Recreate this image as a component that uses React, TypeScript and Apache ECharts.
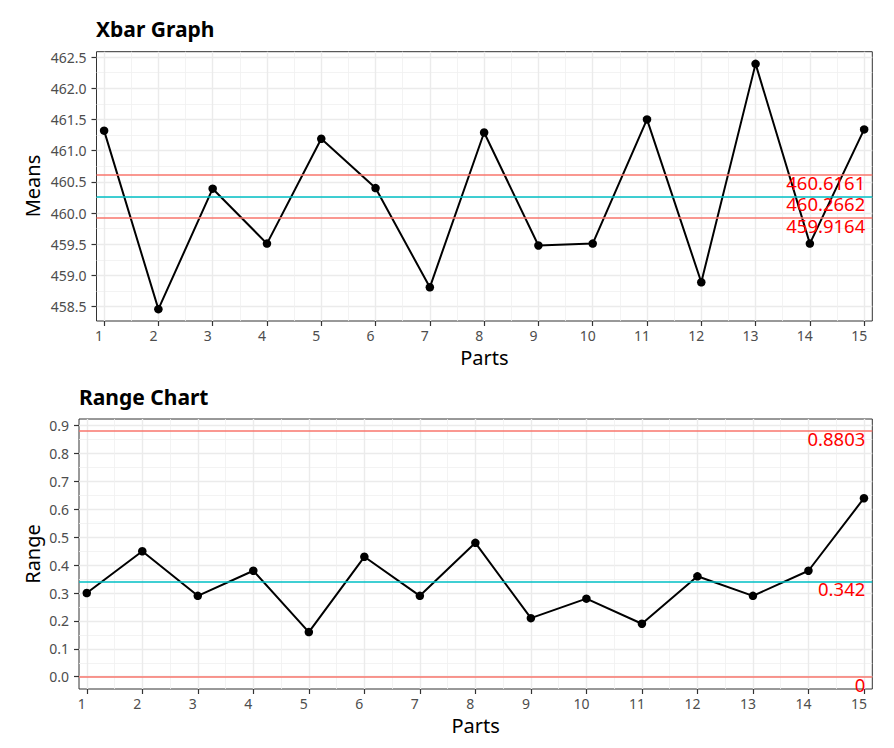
import React, { useEffect, useRef } from "react";
import * as echarts from "echarts";

const parts = [1, 2, 3, 4, 5, 6, 7, 8, 9, 10, 11, 12, 13, 14, 15];
const means = [461.32, 458.46, 460.39, 459.51, 461.19, 460.4, 458.81, 461.29, 459.48, 459.51, 461.5, 458.89, 462.39, 459.51, 461.34];
const ranges = [0.3, 0.45, 0.29, 0.38, 0.16, 0.43, 0.29, 0.48, 0.21, 0.28, 0.19, 0.36, 0.29, 0.38, 0.64];
const xbarLimitValues = [460.6161, 460.2662, 459.9164];
const rangeLimitValues = [0.8803, 0.342, 0];
const meansTicks = [458.5, 459, 459.5, 460, 460.5, 461, 461.5, 462, 462.5];
const rangeTicks = [0, 0.1, 0.2, 0.3, 0.4, 0.5, 0.6, 0.7, 0.8, 0.9];

const FONT = "'Noto Sans', 'DejaVu Sans', sans-serif";
const limitColors = ["#F8766D", "#00BFC4", "#F8766D"];

function xAxis(gridIndex: number) {
  return {
    type: "value",
    gridIndex,
    min: 0.86,
    max: 15.15,
    splitNumber: 14,
    minInterval: 1,
    maxInterval: 1,
    axisLine: { show: false, onZero: false },
    axisTick: { show: true, length: 5, customValues: parts, lineStyle: { color: "#333333", width: 1.2 } },
    axisLabel: {
      customValues: parts,
      color: "#4D4D4D",
      fontSize: 14,
      fontFamily: FONT,
      margin: 7,
      padding: [0, 10, 0, 0],
      formatter: (v: number) => String(v),
    },
    splitLine: { show: true, lineStyle: { color: "#EBEBEB", width: 1.4 } },
    minorTick: { show: false, splitNumber: 2 },
    minorSplitLine: { show: true, lineStyle: { color: "#F0F0F0", width: 0.8 } },
  };
}

function yAxis(gridIndex: number, min: number, max: number, interval: number, ticks: number[]) {
  return {
    type: "value",
    gridIndex,
    min,
    max,
    minInterval: interval,
    maxInterval: interval,
    splitNumber: ticks.length - 1,
    axisLine: { show: false, onZero: false },
    axisTick: { show: true, length: 5, customValues: ticks, lineStyle: { color: "#333333", width: 1.2 } },
    axisLabel: {
      customValues: ticks,
      color: "#4D4D4D",
      fontSize: 14,
      fontFamily: FONT,
      margin: 10,
      formatter: (v: number) => v.toFixed(1),
    },
    splitLine: { show: true, lineStyle: { color: "#EBEBEB", width: 1.4 } },
    minorTick: { show: false, splitNumber: 2 },
    minorSplitLine: { show: true, lineStyle: { color: "#F0F0F0", width: 0.8 } },
  };
}

function limitLines(values: number[]) {
  return {
    silent: true,
    symbol: ["none", "none"],
    precision: 4,
    data: values.map((v, i) => ({
      yAxis: v,
      lineStyle: { color: limitColors[i], width: 1.5, type: "solid" },
      label: {
        show: true,
        position: "insideEndBottom",
        formatter: () => String(v),
        color: "#FF0000",
        fontSize: 18.5,
        fontFamily: FONT,
        distance: [7, -2],
      },
    })),
  };
}

function lineSeries(xi: number, values: number[], limits: number[]) {
  return {
    type: "line",
    xAxisIndex: xi,
    yAxisIndex: xi,
    data: parts.map((p, i) => [p, values[i]]),
    symbol: "circle",
    symbolSize: 8.5,
    itemStyle: { color: "#000000" },
    lineStyle: { color: "#000000", width: 2 },
    clip: false,
    markLine: limitLines(limits),
  };
}

const option = {
  animation: false,
  backgroundColor: "#FFFFFF",
  grid: [
    {
      left: 96.5, top: 51.7, width: 775.8, height: 269.3,
      show: true, borderColor: "#333333", borderWidth: 1, backgroundColor: "#FFFFFF",
      containLabel: false, outerBoundsMode: "none",
    },
    {
      left: 79, top: 419, width: 793.3, height: 270,
      show: true, borderColor: "#333333", borderWidth: 1, backgroundColor: "#FFFFFF",
      containLabel: false, outerBoundsMode: "none",
    },
  ],
  xAxis: [xAxis(0), xAxis(1)],
  yAxis: [
    yAxis(0, 458.27, 462.585, 0.5, meansTicks),
    yAxis(1, -0.044, 0.924, 0.1, rangeTicks),
  ],
  series: [lineSeries(0, means, xbarLimitValues), lineSeries(1, ranges, rangeLimitValues)],
  graphic: [
    { type: "text", x: 96, y: 28.5, style: { text: "Xbar Graph", fontSize: 21, fontWeight: "bold", fontFamily: FONT, fill: "#000", align: "left", verticalAlign: "middle" } },
    { type: "text", x: 79, y: 397, style: { text: "Range Chart", fontSize: 21, fontWeight: "bold", fontFamily: FONT, fill: "#000", align: "left", verticalAlign: "middle" } },
    { type: "text", x: 32, y: 186, rotation: Math.PI / 2, style: { text: "Means", fontSize: 20, fontFamily: FONT, fill: "#000", align: "center", verticalAlign: "middle" } },
    { type: "text", x: 32, y: 554, rotation: Math.PI / 2, style: { text: "Range", fontSize: 20, fontFamily: FONT, fill: "#000", align: "center", verticalAlign: "middle" } },
    { type: "text", x: 484.4, y: 357, style: { text: "Parts", fontSize: 20, fontFamily: FONT, fill: "#000", align: "center", verticalAlign: "middle" } },
    { type: "text", x: 475.6, y: 725, style: { text: "Parts", fontSize: 20, fontFamily: FONT, fill: "#000", align: "center", verticalAlign: "middle" } },
  ],
};

export default function App() {
  const ref = useRef<HTMLDivElement>(null);
  useEffect(() => {
    const chart = echarts.init(ref.current as HTMLDivElement, null, { renderer: "svg" });
    chart.setOption(option as any);
    return () => chart.dispose();
  }, []);
  return (
    <div
      ref={ref}
      style={{ position: "fixed", left: 0, top: 0, width: 894, height: 748, background: "#FFFFFF" }}
    />
  );
}
